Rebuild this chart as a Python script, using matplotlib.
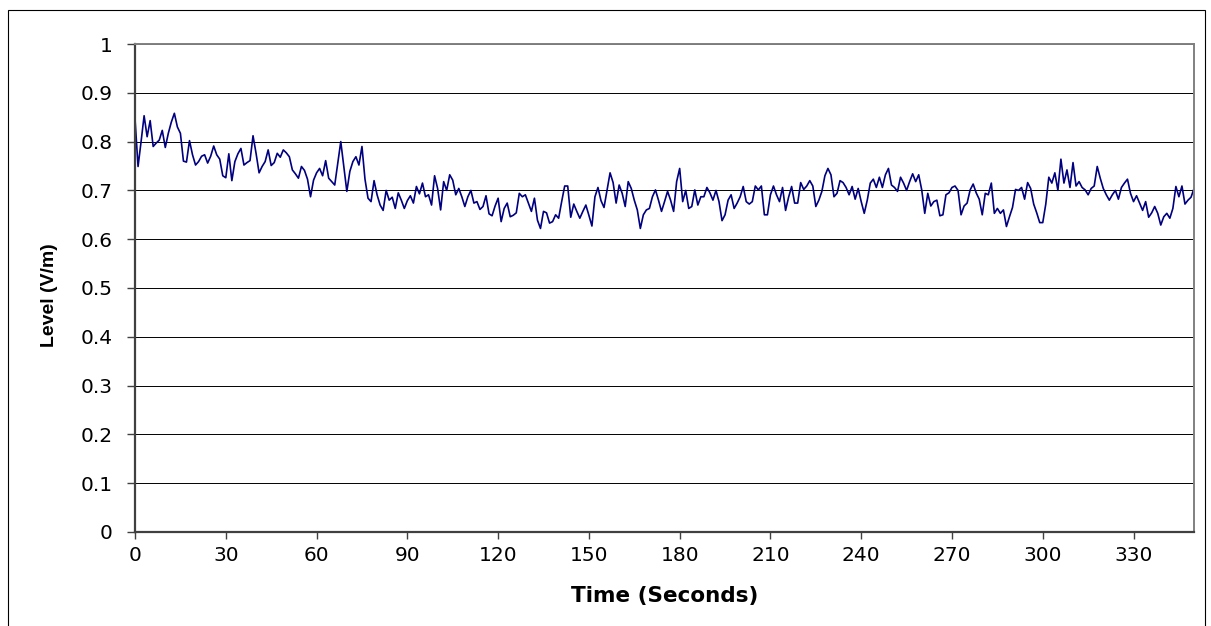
import matplotlib.pyplot as plt
import numpy as np
from matplotlib.patches import Rectangle

# ---------------------- Data ----------------------
level_0_30 = [0.846, 0.749, 0.800, 0.853, 0.810, 0.843, 0.790, 0.797, 0.803, 0.823,
              0.788, 0.817, 0.840, 0.858, 0.830, 0.817, 0.760, 0.758, 0.802, 0.773,
              0.752, 0.759, 0.770, 0.773, 0.756, 0.770, 0.791, 0.773, 0.764, 0.730,
              0.726]
level_31_61 = [0.775, 0.720, 0.759, 0.775, 0.786, 0.752, 0.757, 0.761, 0.812, 0.776,
               0.736, 0.749, 0.759, 0.783, 0.751, 0.757, 0.776, 0.768, 0.783, 0.777,
               0.769, 0.742, 0.734, 0.725, 0.749, 0.741, 0.723, 0.687, 0.721, 0.736,
               0.745]
level_62_93 = [0.730, 0.761, 0.725, 0.718, 0.711, 0.756, 0.800, 0.749, 0.698, 0.739,
               0.759, 0.769, 0.752, 0.790, 0.723, 0.684, 0.677, 0.720, 0.691, 0.670,
               0.659, 0.700, 0.680, 0.686, 0.663, 0.695, 0.680, 0.663, 0.679, 0.689,
               0.674, 0.708]
level_94_124 = [0.693, 0.715, 0.687, 0.691, 0.670, 0.730, 0.704, 0.660, 0.718, 0.700,
                0.732, 0.721, 0.691, 0.704, 0.687, 0.667, 0.687, 0.700, 0.674, 0.677,
                0.661, 0.667, 0.689, 0.652, 0.648, 0.668, 0.684, 0.636, 0.663, 0.674,
                0.646]
level_125_156 = [0.649, 0.654, 0.694, 0.687, 0.691, 0.674, 0.657, 0.684, 0.639, 0.622,
                 0.657, 0.654, 0.633, 0.636, 0.650, 0.643, 0.677, 0.709, 0.709, 0.645,
                 0.672, 0.657, 0.643, 0.657, 0.670, 0.649, 0.627, 0.687, 0.706, 0.679,
                 0.665, 0.701]
level_157_187 = [0.736, 0.716, 0.674, 0.711, 0.694, 0.667, 0.718, 0.704, 0.680, 0.660,
                 0.622, 0.650, 0.660, 0.663, 0.687, 0.701, 0.680, 0.657, 0.677, 0.698,
                 0.680, 0.657, 0.718, 0.745, 0.677, 0.700, 0.663, 0.667, 0.701, 0.670,
                 0.687]
level_188_219 = [0.687, 0.706, 0.695, 0.680, 0.700, 0.677, 0.638, 0.650, 0.680, 0.691,
                 0.663, 0.674, 0.687, 0.708, 0.677, 0.672, 0.677, 0.709, 0.701, 0.709,
                 0.650, 0.650, 0.691, 0.709, 0.691, 0.677, 0.706, 0.659, 0.686, 0.708,
                 0.674, 0.674]
level_220_250 = [0.716, 0.702, 0.709, 0.720, 0.709, 0.667, 0.680, 0.698, 0.730, 0.745,
                 0.732, 0.687, 0.694, 0.720, 0.716, 0.706, 0.691, 0.708, 0.682, 0.704,
                 0.677, 0.653, 0.680, 0.715, 0.723, 0.706, 0.727, 0.706, 0.732, 0.745,
                 0.711]
level_251_281 = [0.706, 0.698, 0.727, 0.715, 0.700, 0.718, 0.734, 0.718, 0.732, 0.701,
                 0.653, 0.694, 0.668, 0.677, 0.680, 0.648, 0.650, 0.691, 0.695, 0.706,
                 0.709, 0.700, 0.650, 0.668, 0.674, 0.701, 0.713, 0.695, 0.682, 0.650,
                 0.694]
level_282_313 = [0.691, 0.715, 0.653, 0.663, 0.653, 0.660, 0.626, 0.646, 0.665, 0.702,
                 0.700, 0.706, 0.682, 0.716, 0.704, 0.672, 0.654, 0.634, 0.634, 0.672,
                 0.727, 0.715, 0.736, 0.700, 0.764, 0.715, 0.742, 0.706, 0.757, 0.709,
                 0.718, 0.706]
level_314_350 = [0.701, 0.691, 0.704, 0.709, 0.749, 0.725, 0.704, 0.691, 0.680, 0.691,
                 0.700, 0.682, 0.706, 0.715, 0.723, 0.694, 0.677, 0.689, 0.674, 0.659,
                 0.677, 0.645, 0.654, 0.667, 0.653, 0.629, 0.646, 0.653, 0.643, 0.663,
                 0.708, 0.687, 0.709, 0.672, 0.680, 0.686, 0.704]

level = np.array(level_0_30 + level_31_61 + level_62_93 + level_94_124 + level_125_156
                 + level_157_187 + level_188_219 + level_220_250 + level_251_281
                 + level_282_313 + level_314_350)
seconds = np.arange(len(level))

x_ticks = np.arange(0, 331, 30)
y_ticks = np.round(np.arange(0, 1.01, 0.1), 1)
y_tick_labels = ["0", "0.1", "0.2", "0.3", "0.4", "0.5", "0.6", "0.7", "0.8", "0.9", "1"]

# ---------------------- Figure ---------------------------
fig = plt.figure(figsize=(12.11, 6.26), dpi=100)
ax = fig.add_axes([0.1115, 0.1502, 0.8745, 0.7795])

# outer chart border
fig.patches.append(Rectangle((8 / 1211, -0.05), 1197 / 1211, 1.05 - 10 / 626,
                             transform=fig.transFigure, fill=False,
                             edgecolor="black", linewidth=0.8))

ax.plot(seconds, level, color="#000080", linewidth=1.2)

ax.set_xlim(0, len(level) - 1)
ax.set_ylim(0, 1)
ax.set_xticks(x_ticks)
ax.set_yticks(y_ticks)
ax.set_yticklabels(y_tick_labels)

ax.grid(axis="y", color="black", linewidth=0.7)
ax.set_axisbelow(True)

for side in ["left", "bottom"]:
    ax.spines[side].set_color("#404040")
    ax.spines[side].set_linewidth(1.6)
for side in ["top", "right"]:
    ax.spines[side].set_color("#808080")
    ax.spines[side].set_linewidth(1.4)

ax.tick_params(axis="y", direction="out", length=6, width=1, color="#404040",
               pad=10, labelsize=14.5)
ax.tick_params(axis="x", direction="out", length=5, width=1, color="#404040",
               pad=5, labelsize=14.5)
for lbl in ax.get_xticklabels() + ax.get_yticklabels():
    lbl.set_fontfamily("DejaVu Sans")

ax.set_xlabel("Time (Seconds)", fontfamily="DejaVu Sans", fontweight="bold",
              fontsize=15.5, labelpad=15)
ax.set_ylabel("Level (V/m)", fontfamily="Liberation Sans", fontweight="bold",
              fontsize=14)
ax.yaxis.set_label_coords(-0.073, 0.485)

fig.savefig("out.png", dpi=100)
